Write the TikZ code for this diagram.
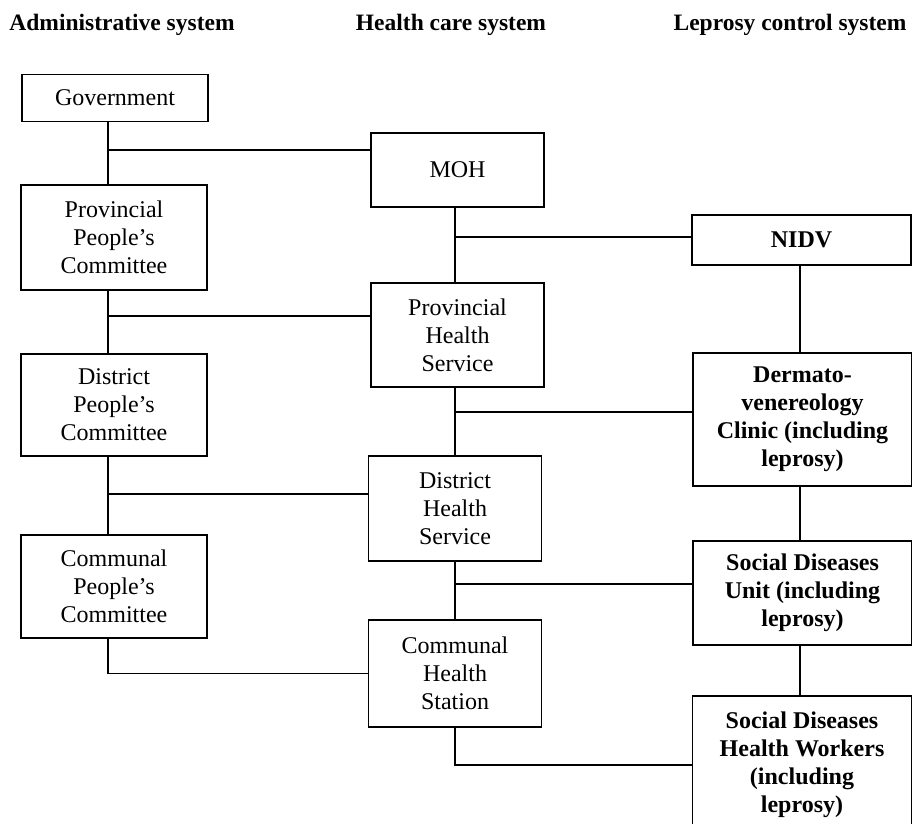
\documentclass[tikz,border=0pt]{standalone}
\usepackage{fontspec}
\setmainfont{Liberation Serif}
\usepackage{tikz}
\usetikzlibrary{positioning, calc}

\tikzset{
  box/.style={draw, line width=1.8pt, inner sep=0pt, align=center,
    font=\fontsize{24}{28}\selectfont},
  boldbox/.style={box, font=\fontsize{24}{28}\selectfont\bfseries},
  head/.style={font=\fontsize{23.5}{28}\selectfont\bfseries, inner sep=0pt},
  link/.style={line width=1.8pt}
}

\begin{document}
\begin{tikzpicture}[x=1pt, y=-1pt]
    \def\lw{186}
    \def\mw{173}
    \def\rw{219}
    \useasboundingbox (0,0) rectangle (912,823);

    % column titles
    \node[head] (tadm) at (122,25) {Administrative system};
    \node[head] (thea) at (451,25) {Health care system};
    \node[head] (tlep) at (790,25) {Leprosy control system};

    % administrative system
    \node[box, minimum width=\lw, minimum height=47] (gov) at (115,98) {Government};
    \node[box, minimum width=\lw, minimum height=105] (ppc) at (114,237.5) {Provincial\\People's\\Committee};
    \node[box, minimum width=\lw, minimum height=102] (dpc) at (114,405) {District\\People's\\Committee};
    \node[box, minimum width=\lw, minimum height=103] (cpc) at (114,586.5) {Communal\\People's\\Committee};

    % health care system
    \node[box, minimum width=\mw, minimum height=74] (moh) at (457.5,170) {MOH};
    \node[box, minimum width=\mw, minimum height=104] (phs) at (457.5,335) {Provincial\\Health\\Service};
    \node[box, minimum width=\mw, minimum height=105] (dhs) at (455,508.5) {District\\Health\\Service};
    \node[box, minimum width=\mw, minimum height=107] (chs) at (455,673.5) {Communal\\Health\\Station};

    % leprosy control system
    \node[boldbox, minimum width=\rw, minimum height=50] (nidv) at (801.5,240) {NIDV};
    \node[boldbox, minimum width=\rw, minimum height=133] (derm) at (802.5,419.5) {Dermato-\\venereology\\Clinic (including\\leprosy)};
    \node[boldbox, minimum width=\rw, minimum height=104] (sdu) at (802.5,593) {Social Diseases\\Unit (including\\leprosy)};
    \node[boldbox, minimum width=\rw, minimum height=138] (sdhw) at (802,765) {Social Diseases\\Health Workers\\(including\\leprosy)};

    % spines
    \coordinate (aspine) at (108,0);
    \coordinate (j1) at (108,150);
    \coordinate (j2) at (108,316);
    \coordinate (j3) at (108,494);
    \coordinate (k1) at (455,237);
    \coordinate (k2) at (455,412);
    \coordinate (k3) at (455,584);

    \draw[link] (gov.south -| aspine) -- (ppc.north -| aspine);
    \draw[link] (ppc.south -| aspine) -- (dpc.north -| aspine);
    \draw[link] (dpc.south -| aspine) -- (cpc.north -| aspine);
    \draw[link] (cpc.south -| aspine) |- (chs.west);

    \draw[link] (j1) -- (j1 -| moh.west);
    \draw[link] (j2) -- (j2 -| phs.west);
    \draw[link] (j3) -- (j3 -| dhs.west);

    \draw[link] (moh.south -| k1) -- (phs.north -| k1);
    \draw[link] (phs.south -| k1) -- (dhs.north -| k1);
    \draw[link] (dhs.south -| k1) -- (chs.north -| k1);
    \draw[link] (chs.south -| k1) |- (sdhw.west);

    \draw[link] (k1) -- (k1 -| nidv.west);
    \draw[link] (k2) -- (k2 -| derm.west);
    \draw[link] (k3) -- (k3 -| sdu.west);

    \draw[link] (nidv.south -| 800,0) -- (derm.north -| 800,0);
    \draw[link] (derm.south -| 800,0) -- (sdu.north -| 800,0);
    \draw[link] (sdu.south -| 800,0) -- (sdhw.north -| 800,0);
\end{tikzpicture}
\end{document}
